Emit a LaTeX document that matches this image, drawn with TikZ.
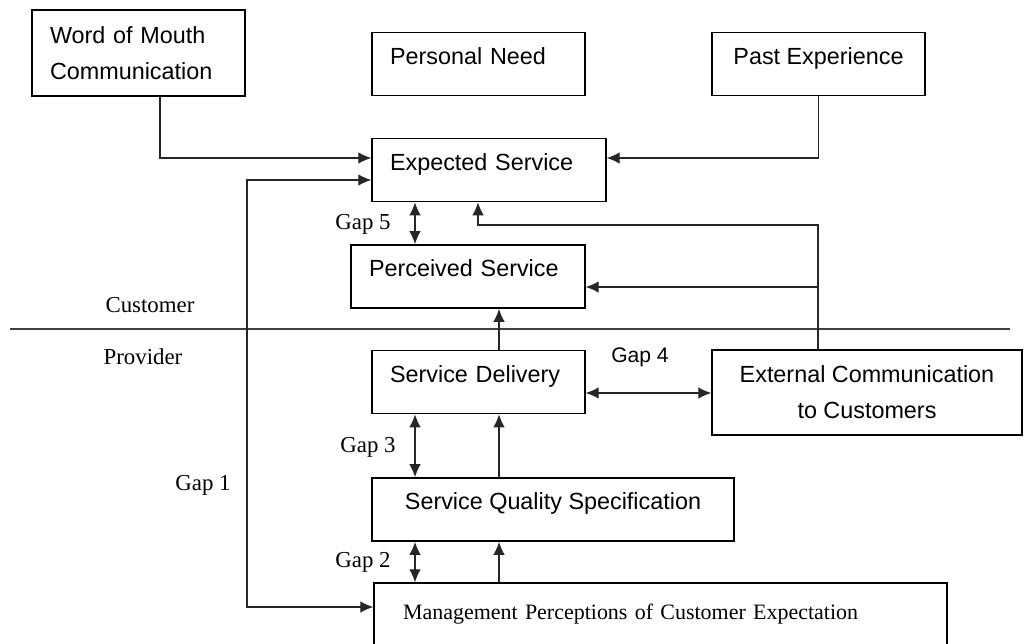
\documentclass[tikz,border=0pt]{standalone}
\usepackage{fontspec}
\setmainfont{Liberation Serif}
\setsansfont{Liberation Sans}
\usetikzlibrary{arrows.meta}

\begin{document}
\begin{tikzpicture}[x=0.02cm,y=-0.02cm,
    box/.style={draw, line width=0.8pt, inner xsep=0.36cm, align=left,
      font=\sffamily\fontsize{13.3}{20.5}\selectfont},
    oneline/.style={text height=18pt, text depth=18pt, inner ysep=0pt},
    link/.style={line width=0.7pt, draw=black!85, -{Latex[length=2.6mm,width=2.3mm]}},
    both/.style={link, {Latex[length=2.6mm,width=2.3mm]}-{Latex[length=2.6mm,width=2.3mm]}},
    tag/.style={font=\fontsize{13}{15}\selectfont, inner sep=0pt}]
    \clip (0,0) rectangle (1024,643);
    % customer side
    \node[box, text width=3.54cm, minimum height=1.72cm] (wom) at (138.5,53) {Word of Mouth\\Communication};
    \node[box, oneline, text width=3.54cm] (need) at (478.5,64) {Personal Need};
    \node[box, oneline, minimum width=4.26cm, align=center] (past) at (818.5,64) {Past Experience};
    \node[box, oneline, text width=3.96cm] (expected) at (489,170) {Expected Service};
    \node[box, oneline, text width=3.96cm] (perceived) at (468,276.5) {Perceived Service};
    % provider side
    \node[box, oneline, text width=3.54cm] (delivery) at (478.5,382) {Service Delivery};
    \node[box, minimum width=6.2cm, minimum height=1.7cm, align=center] (external) at (867,392.5) {External Communication\\to Customers};
    \node[box, oneline, minimum width=7.24cm, align=center] (spec) at (553,509.5) {Service Quality Specification};
    \node[box, text height=21pt, text depth=16pt, inner ysep=0pt, inner xsep=0.58cm, text width=10.3cm,
      font=\fontsize{12.5}{15}\selectfont] (mgmt) at (660.5,615.5) {Management Perceptions of Customer Expectation};
    % labels
    \node[tag] (customer) at (150,305) {Customer};
    \node[tag] (provider) at (143,357) {Provider};
    \node[tag] (gapone) at (203,485) {Gap 1};
    \node[tag] (gapfive) at (363,224) {Gap 5};
    \node[tag] (gapthree) at (368,447) {Gap 3};
    \node[tag] (gaptwo) at (363,562) {Gap 2};
    \node[tag, font=\sffamily\fontsize{12}{14}\selectfont] (gapfour) at (640,357) {Gap 4};
    \draw[line width=0.8pt, black!75] (10,329) -- (1010,329);
    % helper columns
    \coordinate (gx) at (415,0);
    \coordinate (ux) at (499,0);
    \coordinate (ex) at (818,0);
    \coordinate (wx) at (160,0);
    \coordinate (bend) at (478,225);
    \coordinate (gapline) at (247,400);
    \coordinate (pin) at ([yshift=-0.21cm]perceived.east);
    \coordinate (gfour) at ([yshift=-0.22cm]delivery.east);
    % connectors
    \draw[link] (wx |- wom.south) |- ([yshift=0.24cm]expected.west);
    \draw[link] (past.south) |- ([yshift=0.24cm]expected.east);
    \draw[both] ([yshift=-0.2cm]expected.west) -| (gapline) |- ([yshift=0.17cm]mgmt.west);
    \draw[both] (gx |- expected.south) -- (gx |- perceived.north);
    \draw[link] (ex |- external.north) |- (bend) -- (bend |- expected.south);
    \draw[link] (pin -| ex) -- (pin);
    \draw[link] (ux |- delivery.north) -- (ux |- perceived.south);
    \draw[both] (gfour) -- (gfour -| external.west);
    \draw[both] (gx |- delivery.south) -- (gx |- spec.north);
    \draw[link] (ux |- spec.north) -- (ux |- delivery.south);
    \draw[both] (gx |- spec.south) -- (gx |- mgmt.north);
    \draw[link] (ux |- mgmt.north) -- (ux |- spec.south);
\end{tikzpicture}
\end{document}
